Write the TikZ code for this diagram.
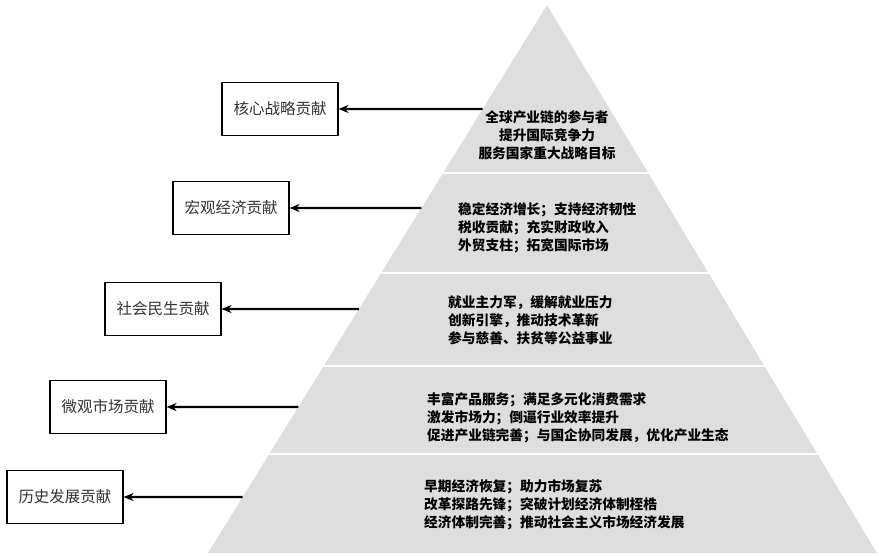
\documentclass[tikz,border=0pt]{standalone}
\usepackage{fontspec}
\newfontfamily\cjk{Noto Sans CJK SC}
\usetikzlibrary{arrows.meta,calc}
\tikzset{
    %Define style for boxes
    box/.style={
        rectangle,
        draw=black, line width=1.1pt,
        minimum width=116pt,
        minimum height=53pt,
        inner sep=0pt,
        text=black!80,
        font=\cjk\fontsize{15.5}{18}\selectfont,
    },
    txt/.style={
        draw = none,
        inner sep = 0pt,
        align = left,
        font = \cjk\bfseries\fontsize{13.7}{18}\selectfont,
    },
    layer/.style={
        fill=black!13,
        draw=none,
    },
    gap/.style={
        draw=white,
        line width=2.5pt,
    },
    link/.style={
        -{Stealth[length=10pt,width=8pt]},
        line width=2.2pt,
    },
}

\begin{document}
\begin{tikzpicture}[x=1pt,y=-1pt]
		\useasboundingbox (0,0) rectangle (879,555);

		% pyramid
		\coordinate (A) at (547,5);
		\coordinate (L) at (208,553);
		\coordinate (R) at (877,553);
		\fill[layer] (A) -- (L) -- (R) -- cycle;
		\begin{scope}
			\clip (A) -- (L) -- (R) -- cycle;
			\foreach \y in {173,273,366,454}
				\draw[gap] (150,\y) -- (879,\y);
		\end{scope}

		% points on the left edge
		\path (A) -- (L) coordinate[pos=0.1898] (e1)
			coordinate[pos=0.3704] (e2)
			coordinate[pos=0.5547] (e3)
			coordinate[pos=0.7336] (e4)
			coordinate[pos=0.8978] (e5);

		\node[txt,align=center] (t1) at (547,135) {全球产业链的参与者\\提升国际竞争力\\服务国家重大战略目标};
		\node[txt,anchor=west] (t2) at (458,227.5) {稳定经济增长；支持经济韧性\\税收贡献；充实财政收入\\外贸支柱；拓宽国际市场};
		\node[txt,anchor=west] (t3) at (448,320) {就业主力军，缓解就业压力\\创新引擎，推动技术革新\\参与慈善、扶贫等公益事业};
		\node[txt,anchor=west] (t4) at (427,418) {丰富产品服务；满足多元化消费需求\\激发市场力；倒逼行业效率提升\\促进产业链完善；与国企协同发展，优化产业生态};
		\node[txt,anchor=west] (t5) at (424,505) {早期经济恢复；助力市场复苏\\改革探路先锋；突破计划经济体制桎梏\\经济体制完善；推动社会主义市场经济发展};

		\node[box] (b1) at (280,109) {核心战略贡献};
		\node[box] (b2) at (231,208) {宏观经济贡献};
		\node[box] (b3) at (163,309) {社会民生贡献};
		\node[box] (b4) at (108,407) {微观市场贡献};
		\node[box] (b5) at (65,497) {历史发展贡献};

		\draw[link] (e1) -- (b1);
		\draw[link] (e2) -- (b2);
		\draw[link] (e3) -- (b3);
		\draw[link] (e4) -- (b4);
		\draw[link] (e5) -- (b5);
	\end{tikzpicture}
\end{document}
